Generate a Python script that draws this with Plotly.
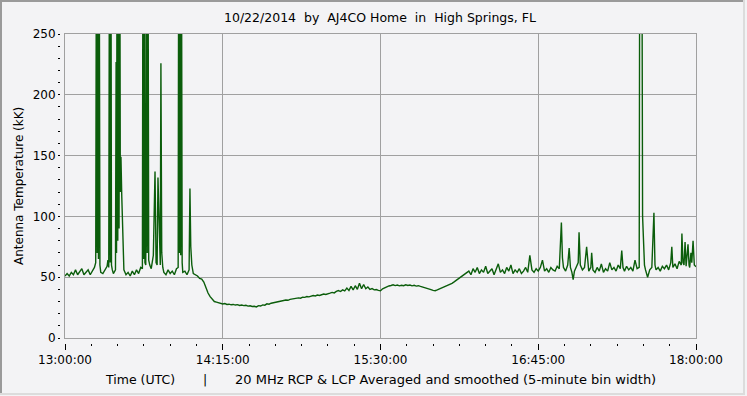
import pandas as pd
import plotly.graph_objects as go

# ---------------- data (minutes after 13:00 UTC, antenna temperature kK) ----------------
start = pd.Timestamp("2014-10-22 13:00:00")
end = pd.Timestamp("2014-10-22 18:00:00")

morning_min = [0, 1, 2, 3, 4, 5, 6, 7, 8, 9, 10, 11, 12, 13, 14, 14.6, 15.0, 15.3, 15.6, 15.9, 16.2, 16.6,
               17, 18, 19, 20, 20.4, 20.8, 21.2, 21.5, 21.8, 22.1, 22.5, 23, 24, 24.3, 24.5, 24.8, 25.1,
               25.4, 25.7, 26.0, 26.3, 26.6, 27, 27.5, 28, 29, 30, 31, 32, 33, 34, 35, 36, 36.8, 37.1,
               37.4, 37.7, 38.0, 38.4, 38.8, 39.1, 39.4, 39.8, 40.3, 41, 42, 42.8, 43.3, 43.8, 44.2, 44.8,
               45.3, 45.6, 46, 46.5, 47, 48, 49, 50, 51, 52, 53, 53.8, 54.1, 54.4, 54.7, 55.0, 55.3, 55.7,
               56, 57, 58, 59, 59.4, 59.8, 60.3, 61, 62, 63, 64]
morning_val = [51, 53, 51, 54, 52, 56, 52, 55, 57, 52, 54, 56, 52, 55, 58, 62, 400, 70, 400, 65, 400, 60,
               54, 53, 56, 59, 64, 58, 400, 62, 400, 60, 56, 53, 56, 227, 70, 400, 80, 400, 90, 400, 120,
               149, 116, 70, 56, 52, 54, 51, 55, 52, 56, 53, 58, 57, 400, 65, 400, 62, 60, 400, 70, 400,
               64, 60, 57, 68, 137, 62, 60, 132, 75, 60, 226, 70, 58, 54, 52, 56, 53, 55, 52, 57, 58, 400,
               70, 400, 68, 400, 62, 54, 55, 52, 56, 123, 75, 60, 53, 52, 51, 49]

midday_min = list(range(65, 192))
midday_val = [48.5, 46, 41, 37, 34, 31.5, 30, 29.5, 29, 28.5, 28, 28.3, 27.6, 27.8, 27.3, 27.6, 27.1, 27.4,
              26.8, 27.1, 26.6, 26.9, 26.2, 26.5, 25.9, 26.1, 25.6, 26.6, 26.3, 27.2, 27.0, 28.1, 27.8,
              28.6, 28.9, 29.6, 29.3, 30.2, 30.0, 30.8, 31.2, 31.0, 31.8, 32.1, 31.9, 32.8, 33.0, 32.7,
              33.6, 33.4, 34.1, 33.8, 34.3, 34.9, 34.6, 35.3, 35.0, 35.9, 36.2, 35.8, 36.6, 36.9, 37.5,
              37.1, 38.3, 39.0, 38.2, 39.6, 38.8, 41.0, 39.0, 42.5, 39.5, 43.0, 40.0, 45.0, 40.5, 44.0,
              40.5, 42.0, 40.0, 40.6, 39.6, 39.9, 39.2, 38.9, 40.5, 41.4, 42.1, 42.8, 43.2, 43.8, 43.1,
              43.5, 42.9, 43.4, 43.0, 43.7, 43.2, 43.6, 42.9, 43.3, 42.7, 43.0, 42.4, 42.0, 41.5, 41.0,
              40.2, 39.8, 39.2, 38.9, 39.6, 40.3, 41.2, 42.0, 42.6, 43.2, 43.8, 45.0, 46.2, 47.5, 48.3,
              49.6, 50.8, 52.1, 53.4]

evening_min = [192, 193, 194, 195, 196, 197, 198, 199, 200, 201, 202, 203, 204, 205, 206, 207, 208, 209,
               210, 211, 212, 213, 214, 215, 216, 217, 218, 219, 220, 221, 222, 223, 224, 225, 226, 227,
               228, 229, 230, 231, 232, 233, 234, 235, 236, 236.5, 237, 238, 239, 239.7, 240.3, 241,
               241.6, 242.2, 243, 244, 244.4, 245, 246, 247, 248, 248.6, 249, 250, 250.4, 251, 252, 253,
               254, 255, 256, 257, 258, 259, 260, 261, 262, 263, 264, 264.7, 265.3, 266, 267, 268, 269,
               270, 271, 272, 273.0, 273.3, 274.2, 274.6, 275.0, 275.5, 276, 277, 278, 279, 280, 280.5,
               281, 282, 283, 284, 285, 286, 287, 288, 288.5, 289, 290, 291, 292, 293, 293.3, 293.8,
               294.3, 294.8, 295.3, 296.2, 296.7, 297, 297.6, 298, 298.6, 299.2, 300]
evening_val = [55, 52, 57, 54, 58, 53, 56, 54, 59, 53, 55, 57, 52, 56, 61, 54, 56, 53, 58, 55, 60, 53, 56,
               54, 57, 53, 55, 58, 54, 68, 56, 54, 57, 55, 58, 64, 55, 57, 54, 58, 56, 55, 59, 57, 95, 66,
               58, 55, 60, 74, 58, 54, 48, 55, 58, 62, 87, 60, 56, 58, 75, 57, 55, 58, 70, 56, 54, 58, 55,
               61, 54, 57, 55, 62, 56, 58, 55, 60, 57, 72, 58, 55, 59, 56, 58, 55, 64, 57, 58, 400, 400,
               100, 80, 60, 56, 50, 56, 58, 103, 60, 56, 58, 55, 59, 57, 60, 56, 62, 75, 58, 61, 57, 63,
               60, 86, 62, 60, 79, 59, 77, 60, 58, 70, 62, 80, 60, 58.6]

x_tick_text_fmt = "%H:%M:%S"
title_text = "10/22/2014\u00a0\u00a0by\u00a0\u00a0AJ4CO Home\u00a0\u00a0in\u00a0\u00a0High Springs, FL"
y_title = "Antenna Temperature (kK)"
x_title_parts = ["Time (UTC)", "|", "20 MHz RCP & LCP Averaged and smoothed (5-minute bin width)"]

# ---------------- build ----------------
minutes = morning_min + midday_min + evening_min
temps = morning_val + midday_val + evening_val
times = start + pd.to_timedelta(minutes, unit="min")

W, H = 747, 396
BG = "#F3F3F5"
GRID = "#A0A0A0"
GREEN = "#0B5D0B"
FONT = "DejaVu Sans"

px_l, px_r, px_t, px_b = 65, 696, 34, 338
xdom = [px_l / W, px_r / W]
ydom = [1 - px_b / H, 1 - px_t / H]

fig = go.Figure()
fig.add_trace(go.Scatter(x=times, y=temps, mode="lines",
                         line=dict(color=GREEN, width=1.4), hoverinfo="skip"))
# invisible copy that binds the offset tick axes
fig.add_trace(go.Scatter(x=times, y=temps, mode="lines", xaxis="x2", yaxis="y2",
                         line=dict(color="rgba(0,0,0,0)", width=0), hoverinfo="skip"))

fig.update_layout(
    width=W, height=H, margin=dict(l=0, r=0, t=0, b=0, autoexpand=False),
    paper_bgcolor=BG, plot_bgcolor=BG, showlegend=False,
    font=dict(family=FONT, size=12, color="#000"),
    xaxis=dict(type="date", domain=xdom, range=[start, end], tick0=start, dtick=75 * 60000,
               showgrid=True, gridcolor=GRID, gridwidth=1, showline=True, mirror=True,
               linecolor=GRID, linewidth=1, ticks="", showticklabels=False, zeroline=False,
               automargin=False),
    yaxis=dict(domain=ydom, range=[0, 250], dtick=50, showgrid=True, gridcolor=GRID, gridwidth=1,
               showline=True, mirror=True, linecolor=GRID, linewidth=1, ticks="",
               showticklabels=False, zeroline=False, automargin=False),
    xaxis2=dict(type="date", overlaying="x", anchor="free", position=1 - 343 / H, domain=xdom,
                range=[start, end], tick0=start, dtick=75 * 60000, tickformat=x_tick_text_fmt,
                ticks="outside", ticklen=6, tickwidth=1, tickcolor="#000", showgrid=False,
                showline=False, zeroline=False, tickfont=dict(size=12, color="#000"),
                automargin=False,
                minor=dict(tick0=start, dtick=12.5 * 60000, ticks="outside", ticklen=2,
                           tickcolor="#000", showgrid=False)),
    yaxis2=dict(overlaying="y", anchor="free", position=60 / W, side="left", domain=ydom,
                range=[0, 250], dtick=50, ticks="outside", ticklen=2, tickwidth=1,
                tickcolor="#000", showgrid=False, showline=False, zeroline=False,
                tickfont=dict(size=12, color="#000"), automargin=False,
                minor=dict(dtick=10, ticks="outside", ticklen=2, tickcolor="#000", showgrid=False)),
)

fig.add_annotation(text=title_text, x=380 / W, y=1 - 17 / H, xref="paper", yref="paper",
                   showarrow=False, xanchor="center", yanchor="middle", font=dict(size=12.5))
fig.add_annotation(text=y_title, x=19 / W, y=1 - 186 / H, xref="paper", yref="paper",
                   showarrow=False, textangle=-90, xanchor="center", yanchor="middle",
                   font=dict(size=12))
for txt, cx, fs in zip(x_title_parts, [140, 205, 445], [12.5, 12.5, 13]):
    fig.add_annotation(text=txt, x=cx / W, y=1 - 379 / H, xref="paper", yref="paper",
                       showarrow=False, xanchor="center", yanchor="middle",
                       font=dict(size=fs, color="#000"))

# window-style frame
for (x0, y0, x1, y1, c) in [(0, 1, 745, 1, "#9A9A9A"), (1, 0, 1, 394, "#9A9A9A"),
                            (0, 394, 745, 394, "#DCDCDC"), (744, 0, 744, 394, "#DCDCDC")]:
    fig.add_shape(type="line", xref="paper", yref="paper", x0=x0 / W, x1=x1 / W,
                  y0=1 - y0 / H, y1=1 - y1 / H, line=dict(color=c, width=2))

fig.write_html("out.html")
